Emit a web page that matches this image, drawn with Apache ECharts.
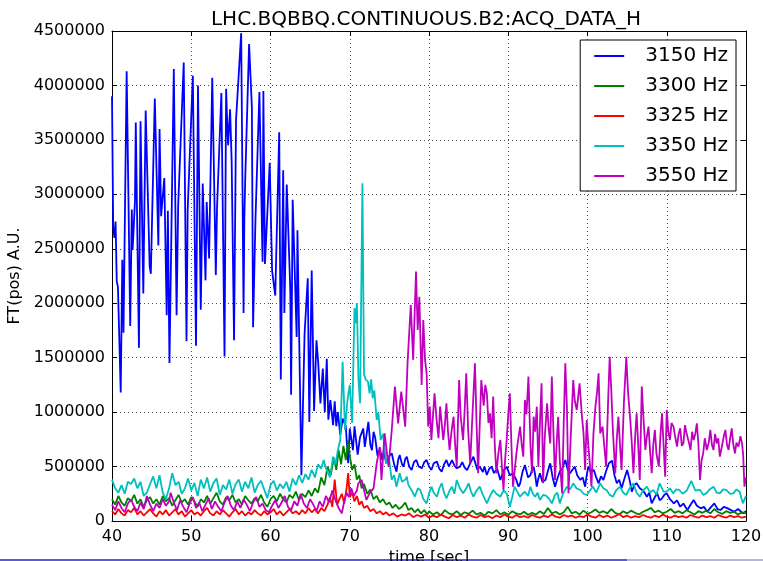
<!DOCTYPE html>
<html>
<head>
<meta charset="utf-8">
<script src="https://cdn.jsdelivr.net/npm/echarts@6/dist/echarts.min.js"></script>
<style>
  html, body { margin: 0; padding: 0; background: #fff; }
  #chart { width: 763px; height: 561px; }
</style>
</head>
<body>
<div id="chart"></div>
<script>
// Spectrum amplitude of the horizontal tune signal over time, per frequency line.
// Each series is a list of [time (s), amplitude (thousands of A.U.)].
const chartTitle = 'LHC.BQBBQ.CONTINUOUS.B2:ACQ_DATA_H';
const xName = 'time [sec]';
const yName = 'FT(pos) A.U.';
const xRange = [40, 120, 10];
const yRange = [0, 4500000, 500000];
const seriesNames = ['3150 Hz', '3300 Hz', '3325 Hz', '3350 Hz', '3550 Hz'];
const seriesColors = ['#0000ff', '#008000', '#ff0000', '#00bfbf', '#bf00bf'];
const KAU = 1000;

const hz3150 = [
  [40.0,3900],[40.15,2700],[40.3,2600],[40.45,2750],[40.6,2200],[40.75,2150],[41.1,1180],[41.3,2400],[41.45,1730],
  [41.85,4130],[42.3,1790],[42.5,2860],[42.6,2490],[42.9,2940],[43.0,3660],[43.4,1590],[43.6,3670],[43.95,2090],
  [44.25,3770],[44.6,2770],[44.75,2340],[44.9,2270],[45.4,3880],[45.85,2530],[46.0,3600],[46.2,2800],[46.6,3150],
  [46.9,1890],[47.05,2850],[47.25,1450],[47.8,4150],[48.15,1890],[48.35,2900],[49.05,4210],[49.4,1650],[49.55,2860],
  [50.2,4090],[50.6,1610],[50.85,4000],[51.2,1940],[51.45,3100],[51.8,2210],[51.95,2930],[52.25,2410],[52.65,4070],
  [53.1,2260],[53.25,2870],[53.8,3930],[54.2,1510],[54.4,3970],[54.5,3740],[54.65,3450],[54.9,3780],[55.1,3300],
  [55.4,1660],[55.65,3680],[56.3,4480],[56.6,1910],[56.7,2780],[56.8,3110],[57.3,4380],[57.65,3800],[57.8,1780],
  [58.1,2760],[58.6,3940],[59.0,2380],[59.1,3950],[59.3,2360],[59.9,3290],[60.2,2300],[60.6,2070],[61.1,3570],
  [61.3,1300],[61.6,3220],[61.75,1910],[62.05,3090],[62.5,2120],[62.6,1160],[62.8,2950],[63.3,1690],[63.4,2670],
  [63.9,420],[64.3,1720],[64.7,2230],[64.9,910],[65.2,2300],[65.5,1010],[65.8,1660],[66.0,1480],[66.3,1080],
  [66.6,1400],[66.85,1000],[67.1,1490],[67.3,930],[67.55,1110],[67.9,880],[68.1,1100],[68.3,870],[68.5,1000],
  [68.8,790],[69.1,940],[69.5,870],[69.8,530],[70.0,850],[70.4,650],[70.6,870],[71.0,610],[71.3,770],[71.7,850],
  [71.9,680],[72.35,910],[72.6,700],[72.8,650],[73.0,820],[73.2,770],[73.5,600],[73.8,667],[74.1,560],[74.3,640],
  [74.6,530],[74.9,590],[75.3,622],[75.6,520],[75.9,453],[76.1,560],[76.3,607],[76.6,520],[76.8,499],[77.0,570],
  [77.2,591],[77.5,500],[77.8,468],[78.1,540],[78.4,560],[78.7,500],[79.1,484],[79.4,540],[79.7,560],[80.0,500],
  [80.3,468],[80.6,530],[81.0,545],[81.3,480],[81.6,453],[81.9,520],[82.2,560],[82.5,500],[82.9,560],[83.2,510],
  [83.5,484],[83.9,499],[84.2,540],[84.5,490],[84.8,468],[85.2,530],[85.6,591],[85.9,520],[86.1,470],[86.4,499],
  [86.8,450],[87.0,500],[87.3,422],[87.6,480],[87.9,499],[88.2,440],[88.6,480],[89.0,377],[89.4,460],[89.8,499],
  [90.2,420],[90.6,438],[91.0,380],[91.3,315],[91.5,346],[91.8,450],[92.1,514],[92.5,400],[92.8,422],[93.0,470],
  [93.2,499],[93.4,420],[93.6,315],[93.8,390],[94.0,438],[94.3,360],[94.7,377],[95.0,460],[95.3,530],[95.6,400],
  [95.9,315],[96.2,390],[96.5,453],[96.8,480],[97.2,560],[97.5,470],[97.8,438],[98.1,470],[98.4,499],[98.7,420],
  [99.1,377],[99.4,400],[99.7,315],[99.9,420],[100.1,499],[100.4,450],[100.8,468],[101.1,400],[101.4,346],
  [101.7,410],[102.0,377],[102.4,470],[102.7,530],[103.1,554],[103.4,420],[103.7,346],[104.0,380],[104.3,300],
  [104.7,400],[105.0,468],[105.3,380],[105.6,269],[105.9,330],[106.2,346],[106.6,300],[106.9,285],[107.2,260],
  [107.5,223],[107.8,260],[108.1,162],[108.5,220],[108.8,254],[109.1,190],[109.4,208],[109.7,240],[110.0,254],
  [110.4,200],[110.9,162],[111.3,190],[111.7,131],[112.1,160],[112.6,101],[113.0,150],[113.4,193],[113.8,140],
  [114.3,116],[114.7,130],[115.1,86],[115.5,120],[116.0,162],[116.4,110],[116.8,101],[117.2,130],[117.7,116],
  [118.1,100],[118.5,86],[119.0,110],[119.6,70],[120.0,90]
];

const hz3300 = [
  [40.0,200],[40.4,150],[40.8,230],[41.2,170],[41.6,140],[42.0,210],[42.4,180],[42.8,240],[43.2,160],[43.6,200],
  [44.0,130],[44.4,190],[44.8,220],[45.2,160],[45.6,200],[46.0,150],[46.4,230],[46.8,180],[47.2,210],[47.6,140],
  [48.0,190],[48.4,240],[48.8,170],[49.2,200],[49.6,150],[50.0,220],[50.4,180],[50.8,130],[51.2,200],[51.6,170],
  [52.0,230],[52.4,160],[52.8,210],[53.2,260],[53.6,180],[54.0,150],[54.4,220],[54.8,190],[55.2,240],[55.6,170],
  [56.0,200],[56.4,150],[56.8,230],[57.2,190],[57.6,160],[58.0,210],[58.4,180],[58.8,240],[59.2,170],[59.6,130],
  [60.0,200],[60.4,230],[60.8,180],[61.2,250],[61.6,200],[62.0,170],[62.4,240],[62.8,210],[63.2,270],[63.6,190],
  [64.0,250],[64.4,220],[64.8,280],[65.2,230],[65.6,300],[66.0,260],[66.4,400],[66.8,330],[67.2,500],[67.6,420],
  [68.0,580],[68.3,470],[68.6,650],[68.9,520],[69.2,690],[69.5,560],[69.8,740],[70.0,600],[70.3,470],[70.6,520],
  [70.9,380],[71.2,420],[71.5,300],[71.8,340],[72.2,250],[72.6,290],[73.0,200],[73.4,230],[73.8,170],[74.2,200],
  [74.6,150],[75.0,170],[75.4,120],[75.8,150],[76.2,110],[76.6,130],[77.0,170],[77.4,100],[77.8,120],[78.2,80],
  [78.6,110],[79.0,70],[79.4,100],[79.8,60],[80.0,90],[80.5,60],[81.0,80],[81.5,50],[82.0,100],[82.5,70],
  [83.0,60],[83.5,90],[84.0,55],[84.5,80],[85.0,65],[85.5,95],[86.0,60],[86.5,75],[87.0,50],[87.5,85],[88.0,70],
  [88.5,100],[89.0,60],[89.5,80],[90.0,55],[90.5,90],[91.0,70],[91.5,60],[92.0,85],[92.5,55],[93.0,75],[93.5,60],
  [94.0,90],[94.5,65],[95.0,120],[95.5,70],[96.0,85],[96.5,60],[97.0,80],[97.5,130],[98.0,70],[98.5,85],[99.0,60],
  [99.5,95],[100.0,65],[100.5,80],[101.0,105],[101.5,75],[102.0,90],[102.5,70],[103.0,110],[103.5,75],[104.0,60],
  [104.5,90],[105.0,70],[105.5,95],[106.0,75],[106.5,60],[107.0,85],[107.5,100],[108.0,120],[108.5,80],[109.0,95],
  [109.5,70],[110.0,85],[110.5,110],[111.0,75],[111.5,90],[112.0,70],[112.5,100],[113.0,80],[113.5,60],[114.0,90],
  [114.5,75],[115.0,95],[115.5,70],[116.0,110],[116.5,80],[117.0,65],[117.5,90],[118.0,75],[118.5,85],[119.0,60],
  [119.5,80],[120.0,70]
];

const hz3325 = [
  [40.0,90],[40.4,60],[40.8,110],[41.2,70],[41.6,50],[42.0,100],[42.4,80],[42.8,120],[43.2,60],[43.6,90],
  [44.0,50],[44.4,80],[44.8,110],[45.2,70],[45.6,40],[46.0,90],[46.4,60],[46.8,100],[47.2,50],[47.6,80],
  [48.0,110],[48.4,60],[48.8,90],[49.2,40],[49.6,70],[50.0,100],[50.4,60],[50.8,80],[51.2,50],[51.6,90],
  [52.0,120],[52.4,70],[52.8,50],[53.2,90],[53.6,60],[54.0,100],[54.4,70],[54.8,40],[55.2,80],[55.6,110],
  [56.0,60],[56.4,90],[56.8,50],[57.2,80],[57.6,60],[58.0,100],[58.4,70],[58.8,50],[59.2,90],[59.6,60],
  [60.0,80],[60.4,110],[60.8,60],[61.2,90],[61.6,50],[62.0,80],[62.4,110],[62.8,70],[63.2,90],[63.6,60],
  [64.0,100],[64.4,70],[64.8,120],[65.2,80],[65.6,110],[66.0,70],[66.4,120],[66.8,90],[67.2,150],[67.5,220],
  [67.8,130],[68.1,380],[68.4,150],[68.7,200],[69.0,250],[69.3,160],[69.6,300],[69.8,440],[70.0,220],[70.3,260],
  [70.6,180],[70.9,230],[71.2,150],[71.5,180],[71.8,120],[72.2,140],[72.6,90],[73.0,110],[73.4,70],[73.8,90],
  [74.2,60],[74.6,80],[75.0,50],[75.5,70],[76.0,40],[76.5,60],[77.0,50],[77.5,70],[78.0,35],[78.5,55],[79.0,40],
  [79.5,60],[80.0,30],[80.5,50],[81.0,35],[81.5,60],[82.0,40],[82.5,25],[83.0,55],[83.5,35],[84.0,50],[84.5,30],
  [85.0,60],[85.5,40],[86.0,30],[86.5,55],[87.0,35],[87.5,45],[88.0,25],[88.5,50],[89.0,35],[89.5,60],[90.0,40],
  [90.5,30],[91.0,55],[91.5,35],[92.0,45],[92.5,30],[93.0,55],[93.5,40],[94.0,30],[94.5,50],[95.0,35],[95.5,60],
  [96.0,40],[96.5,30],[97.0,55],[97.5,40],[98.0,50],[98.5,30],[99.0,45],[99.5,35],[100.0,60],[100.5,40],[101.0,30],
  [101.5,55],[102.0,35],[102.5,50],[103.0,30],[103.5,45],[104.0,65],[104.5,35],[105.0,50],[105.5,30],[106.0,45],
  [106.5,35],[107.0,55],[107.5,40],[108.0,30],[108.5,50],[109.0,35],[109.5,60],[110.0,40],[110.5,30],[111.0,50],
  [111.5,35],[112.0,45],[112.5,30],[113.0,55],[113.5,40],[114.0,30],[114.5,50],[115.0,35],[115.5,45],[116.0,30],
  [116.5,55],[117.0,40],[117.5,30],[118.0,50],[118.5,35],[119.0,45],[119.5,30],[120.0,40]
];

const hz3350 = [
  [40.0,380],[40.4,300],[40.8,260],[41.2,330],[41.6,250],[42.0,360],[42.4,340],[42.8,390],[43.2,300],[43.6,360],
  [44.0,230],[44.4,260],[44.8,340],[45.2,410],[45.6,300],[46.0,420],[46.4,260],[46.8,200],[47.2,300],[47.6,440],
  [48.0,330],[48.4,360],[48.8,250],[49.2,300],[49.6,390],[50.0,280],[50.4,350],[50.8,230],[51.2,380],[51.6,300],
  [52.0,400],[52.4,270],[52.8,350],[53.2,390],[53.6,240],[54.0,330],[54.4,290],[54.8,380],[55.2,250],[55.6,340],
  [56.0,380],[56.4,270],[56.8,360],[57.2,300],[57.6,400],[58.0,260],[58.4,330],[58.8,370],[59.2,290],[59.6,210],
  [60.0,330],[60.4,370],[60.8,280],[61.2,340],[61.6,300],[62.0,360],[62.4,270],[62.8,390],[63.2,330],[63.6,420],
  [64.0,350],[64.4,430],[64.8,380],[65.2,470],[65.6,400],[66.0,520],[66.4,480],[66.7,560],[67.0,484],[67.2,450],
  [67.5,400],[67.9,591],[68.2,520],[68.5,650],[68.8,744],[69.1,1463],[69.4,836],[69.7,1100],[70.0,1250],[70.3,900],
  [70.6,1956],[70.75,1815],[70.9,2002],[71.1,1300],[71.3,1081],[71.6,3101],[71.8,1350],[72.0,1300],[72.3,1280],
  [72.5,1173],[72.7,1300],[72.9,1127],[73.1,1200],[73.4,928],[73.6,1000],[73.9,744],[74.2,800],[74.6,530],
  [74.9,600],[75.3,377],[75.6,420],[75.9,315],[76.1,380],[76.3,438],[76.6,360],[76.8,346],[77.0,380],[77.2,407],
  [77.4,330],[77.6,315],[77.9,270],[78.2,223],[78.6,300],[78.9,285],[79.3,200],[79.7,162],[80.0,250],[80.3,315],
  [80.6,260],[81.0,223],[81.3,300],[81.6,346],[81.9,260],[82.2,208],[82.6,280],[82.9,315],[83.2,250],[83.5,377],
  [83.9,300],[84.3,254],[84.7,300],[85.0,346],[85.3,270],[85.6,223],[86.0,280],[86.4,315],[86.8,240],[87.3,162],
  [87.7,230],[88.1,285],[88.5,250],[89.0,223],[89.4,280],[89.8,254],[90.2,131],[90.5,220],[90.8,315],[91.2,260],
  [91.5,223],[91.8,250],[92.1,269],[92.5,230],[92.8,315],[93.1,250],[93.4,223],[93.7,260],[94.0,193],[94.4,240],
  [94.8,230],[95.2,200],[95.5,162],[95.9,240],[96.2,260],[96.5,162],[96.9,250],[97.4,315],[97.8,290],[98.2,346],
  [98.6,300],[99.1,285],[99.5,250],[99.9,239],[100.3,280],[100.7,315],[101.1,260],[101.6,346],[102.0,300],
  [102.4,285],[102.8,240],[103.2,223],[103.6,280],[104.1,315],[104.5,260],[104.9,239],[105.3,300],[105.8,346],
  [106.2,260],[106.6,223],[107.0,280],[107.5,315],[107.9,260],[108.3,285],[108.7,240],[109.1,346],[109.6,270],
  [110.0,269],[110.4,300],[110.8,254],[111.2,290],[111.6,285],[112.0,250],[112.5,277],[113.1,369],[113.6,280],
  [114.2,285],[114.6,240],[115.0,254],[115.4,290],[115.9,315],[116.3,260],[116.7,254],[117.1,290],[117.5,285],
  [118.0,250],[118.4,254],[118.8,290],[119.2,269],[119.6,162],[120.0,230]
];

const hz3550 = [
  [40.0,150],[40.4,100],[40.8,180],[41.2,120],[41.6,80],[42.0,160],[42.4,200],[42.8,130],[43.2,90],[43.6,170],
  [44.0,110],[44.4,230],[44.8,150],[45.2,90],[45.6,160],[46.0,120],[46.4,200],[46.8,140],[47.2,180],[47.4,260],
  [47.8,170],[48.2,100],[48.6,190],[49.0,130],[49.4,80],[49.8,160],[50.2,220],[50.6,120],[51.0,170],[51.4,90],
  [51.8,150],[52.2,210],[52.6,110],[53.0,180],[53.4,130],[53.8,90],[54.2,170],[54.6,230],[55.0,140],[55.4,100],
  [55.8,180],[56.2,120],[56.6,200],[57.0,150],[57.4,90],[57.8,170],[58.2,220],[58.6,130],[59.0,160],[59.4,100],
  [59.8,80],[60.2,140],[60.6,190],[61.0,120],[61.4,170],[61.8,230],[62.2,130],[62.6,100],[63.0,180],[63.4,140],
  [63.8,250],[64.2,160],[64.6,120],[65.0,200],[65.4,150],[65.8,90],[66.2,180],[66.6,130],[67.0,230],[67.4,170],
  [67.8,280],[68.2,190],[68.6,120],[69.0,70],[69.3,180],[69.6,260],[69.9,220],[70.2,300],[70.5,230],[70.9,280],
  [71.08,346],[71.5,377],[72.1,193],[72.5,254],[73.0,300],[73.4,530],[73.8,680],[74.0,377],[74.4,805],[74.9,499],
  [75.3,836],[75.7,1234],[76.1,897],[76.5,1188],[77.0,867],[77.3,1463],[77.7,1984],[78.0,1480],[78.36,2290],
  [78.57,1754],[78.78,2060],[79.07,1250],[79.28,1846],[79.5,1479],[79.7,1356],[79.9,867],[80.1,1050],[80.3,744],
  [80.5,960],[80.7,1173],[80.96,928],[81.2,760],[81.4,1050],[81.6,900],[81.8,744],[82.0,880],[82.2,1081],
  [82.4,820],[82.6,652],[82.85,830],[83.1,958],[83.3,700],[83.5,499],[83.8,1295],[84.0,960],[84.3,744],
  [84.5,1020],[84.7,1356],[84.95,820],[85.2,530],[85.5,1000],[85.8,1448],[86.0,900],[86.2,438],[86.4,880],
  [86.6,1295],[86.9,1060],[87.1,1250],[87.3,1173],[87.5,900],[87.7,989],[87.9,760],[88.1,1142],[88.3,700],
  [88.5,438],[88.75,620],[89.0,744],[89.2,500],[89.4,285],[89.6,560],[89.8,744],[90.0,980],[90.2,1173],[90.4,700],
  [90.6,315],[91.0,600],[91.2,720],[91.5,867],[91.7,700],[91.9,591],[92.1,1111],[92.3,980],[92.55,1326],
  [92.8,700],[93.0,438],[93.2,958],[93.4,820],[93.6,1050],[93.8,499],[94.0,900],[94.2,1265],[94.4,346],
  [94.6,760],[94.9,1081],[95.1,850],[95.3,713],[95.5,1326],[95.7,820],[95.9,377],[96.1,700],[96.3,958],
  [96.5,560],[96.8,254],[97.0,900],[97.2,1448],[97.4,1050],[97.6,254],[97.9,800],[98.2,1295],[98.4,1100],
  [98.65,1020],[99.0,1265],[99.3,958],[99.5,805],[99.7,468],[99.9,928],[100.1,698],[100.3,520],[100.5,315],
  [100.75,800],[101.0,1050],[101.2,1180],[101.4,1356],[101.6,805],[101.9,867],[102.1,700],[102.35,499],
  [102.6,1100],[102.8,1509],[103.0,1200],[103.2,836],[103.5,438],[103.7,760],[103.9,958],[104.1,700],[104.3,468],
  [104.6,1100],[104.9,1509],[105.1,1200],[105.4,928],[105.6,700],[105.8,438],[106.0,760],[106.2,989],[106.4,700],
  [106.6,377],[106.85,1234],[107.1,900],[107.3,652],[107.5,780],[107.7,867],[107.9,640],[108.1,438],[108.3,700],
  [108.5,836],[108.7,620],[109.0,499],[109.2,780],[109.4,989],[109.6,700],[109.8,407],[110.0,1020],[110.2,820],
  [110.4,744],[110.6,900],[110.85,867],[111.1,760],[111.3,683],[111.5,800],[111.7,851],[111.9,690],[112.1,713],
  [112.3,880],[112.5,805],[112.8,720],[113.0,652],[113.2,820],[113.4,744],[113.6,800],[113.8,897],[114.0,700],
  [114.2,377],[114.4,560],[114.6,622],[114.8,760],[115.05,652],[115.3,720],[115.5,836],[115.7,700],[115.9,652],
  [116.1,800],[116.3,713],[116.5,760],[116.7,591],[117.0,700],[117.2,780],[117.4,836],[117.6,700],[117.8,652],
  [118.0,760],[118.2,851],[118.4,700],[118.6,622],[118.8,720],[119.05,683],[119.3,780],[119.5,713],[119.65,600],
  [119.8,315],[120.0,400]
];

const seriesData = [hz3150, hz3300, hz3325, hz3350, hz3550];

const FONT = 'DejaVu Sans';
const chart = echarts.init(document.getElementById('chart'), null, { renderer: 'canvas' });

const gridLine = { show: true, lineStyle: { color: '#222', width: 0.8, type: [1, 3] } };
const frameLine = { show: true, onZero: false, lineStyle: { color: '#000', width: 1 } };
const innerTick = { show: true, inside: true, length: 5, lineStyle: { color: '#000', width: 1 } };

const xBase = { type: 'value', min: xRange[0], max: xRange[1], interval: xRange[2] };
const yBase = { type: 'value', min: yRange[0], max: yRange[1], interval: yRange[2] };

chart.setOption({
  animation: false,
  backgroundColor: '#fff',
  title: {
    text: chartTitle,
    left: 421,
    top: 5,
    textAlign: 'center',
    textStyle: { fontFamily: FONT, fontSize: 20, fontWeight: 'normal', color: '#000' }
  },
  grid: { left: 112, right: 17, top: 31, bottom: 40, containLabel: false, outerBoundsMode: 'none' },
  legend: {
    orient: 'vertical',
    right: 27,
    top: 40,
    data: seriesNames,
    icon: 'rect',
    itemWidth: 30,
    itemHeight: 2,
    itemGap: 10,
    padding: [6, 8, 5, 14],
    backgroundColor: '#fff',
    borderColor: '#000',
    borderWidth: 1,
    borderRadius: 0,
    textStyle: { fontFamily: FONT, fontSize: 20, color: '#000', lineHeight: 20, padding: [0, 0, 0, 16] }
  },
  xAxis: [
    Object.assign({}, xBase, {
      position: 'bottom',
      name: xName,
      nameLocation: 'middle',
      nameGap: 26,
      nameTextStyle: { fontFamily: FONT, fontSize: 16, color: '#000' },
      axisLine: frameLine,
      axisTick: innerTick,
      axisLabel: { fontFamily: FONT, fontSize: 16, color: '#000', margin: 8 },
      splitLine: gridLine
    }),
    Object.assign({}, xBase, {
      position: 'top',
      axisLine: frameLine,
      axisTick: innerTick,
      axisLabel: { show: false },
      splitLine: { show: false }
    })
  ],
  yAxis: [
    Object.assign({}, yBase, {
      position: 'left',
      name: yName,
      nameLocation: 'middle',
      nameGap: 85,
      nameTextStyle: { fontFamily: FONT, fontSize: 16, color: '#000' },
      axisLine: frameLine,
      axisTick: innerTick,
      axisLabel: { fontFamily: FONT, fontSize: 16, color: '#000', margin: 7, formatter: v => String(v) },
      splitLine: gridLine
    }),
    Object.assign({}, yBase, {
      position: 'right',
      axisLine: frameLine,
      axisTick: innerTick,
      axisLabel: { show: false },
      splitLine: { show: false }
    })
  ],
  series: seriesNames.map((name, i) => ({
    name: name,
    type: 'line',
    xAxisIndex: 0,
    yAxisIndex: 0,
    data: seriesData[i].map(p => [p[0], p[1] * KAU]),
    symbol: 'none',
    showSymbol: false,
    clip: true,
    color: seriesColors[i],
    lineStyle: { color: seriesColors[i], width: 1.8 }
  })),
  graphic: [
    { type: 'rect', shape: { x: 0, y: 559, width: 627, height: 2 }, style: { fill: '#5a5ad6' }, silent: true },
    { type: 'rect', shape: { x: 627, y: 559, width: 136, height: 2 }, style: { fill: '#b4b4dc' }, silent: true }
  ]
});
</script>
</body>
</html>
